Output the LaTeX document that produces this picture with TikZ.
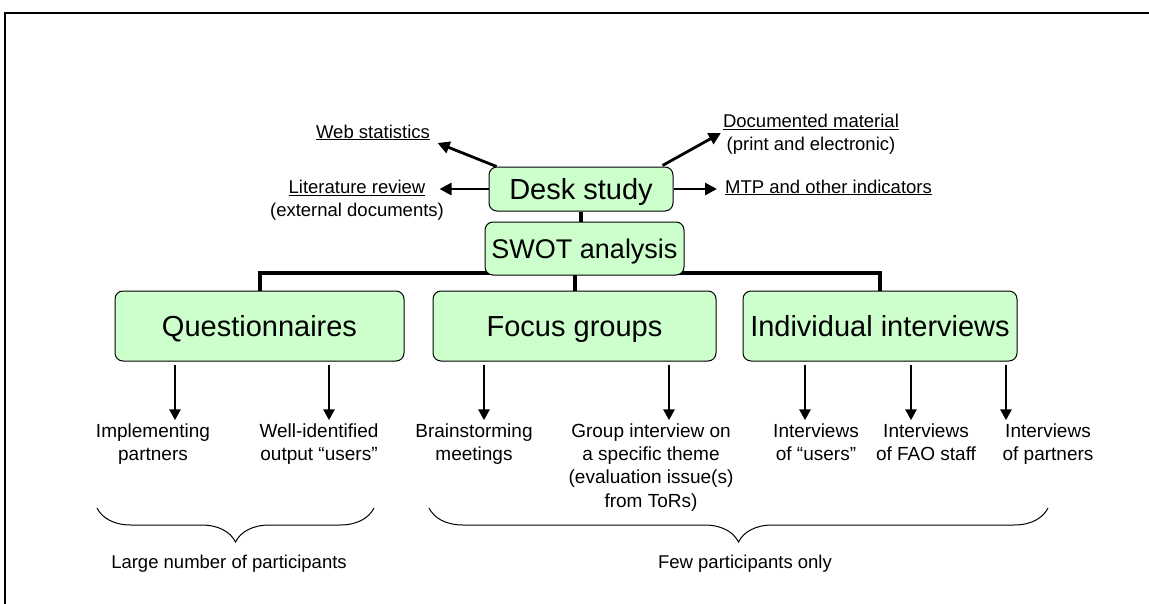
\documentclass[tikz,border=0pt]{standalone}
\usepackage{fontspec}
\setmainfont{Liberation Sans}
\usetikzlibrary{arrows.meta,calc,decorations.pathreplacing,backgrounds}
\definecolor{boxgreen}{HTML}{CCFFCC}
\begin{document}
\begin{tikzpicture}[x=1pt,y=-1pt,
  box/.style={draw=black, line width=1pt, fill=boxgreen, rounded corners=8pt, inner sep=0pt, align=center, text depth=0pt},
  big/.style={box, font=\fontsize{29}{34}\selectfont, text height=20.8pt},
  lbl/.style={inner sep=0pt, align=center, anchor=north, font=\fontsize{19}{23.3}\selectfont},
  toplbl/.style={inner sep=0pt, align=center, font=\fontsize{18.5}{23}\selectfont},
  bar/.style={line width=4pt},
  arr/.style={line width=2.7pt, -{Triangle[length=11pt,width=11pt]}},
  tarr/.style={line width=2.8pt, -{Triangle[length=12pt,width=12pt]}},
  brc/.style={decorate, decoration={brace, amplitude=34pt}, line width=1pt},
]
\useasboundingbox (0,0) rectangle (1149,603);
\clip (0,0) rectangle (1149,603);
\draw[line width=2pt] (4.5,12.5) rectangle (1200,650);

% main boxes
\node[big, minimum width=184pt, minimum height=44pt] (ds) at (581,189) {Desk study};
\node[box, minimum width=199pt, minimum height=53pt, font=\fontsize{27}{32}\selectfont, text height=19.4pt] (sw) at (584.5,248.5) {SWOT analysis};
\node[big, minimum width=289pt, minimum height=70pt] (q) at (259.5,326) {Questionnaires};
\node[big, minimum width=283pt, minimum height=70pt] (fg) at (574.5,326) {Focus groups};
\node[big, minimum width=274pt, minimum height=70pt] (ii) at (880,326) {Individual interviews};

% desk study sources
\node[toplbl, anchor=base] (ws) at (373,138) {\underline{Web statistics}};
\node[toplbl, anchor=north] (lr) at (357,179.7) {\underline{Literature review}\\(external documents)};
\node[toplbl, anchor=north] (dm) at (811,113.7) {\underline{Documented material}\\(print and electronic)};
\node[toplbl, anchor=base west] (mtp) at (725,193) {\underline{MTP and other indicators}};

% bottom labels
\node[lbl] (l1) at (153,423.3) {Implementing\\partners};
\node[lbl] (l2) at (319,423.3) {Well-identified\\output “users”};
\node[lbl] (l3) at (474,423.3) {Brainstorming\\meetings};
\node[lbl] (l4) at (651,423.3) {Group interview on\\a specific theme\\(evaluation issue(s)\\from ToRs)};
\node[lbl] (l5) at (816,423.3) {Interviews\\of “users”};
\node[lbl] (l6) at (926,423.3) {Interviews\\of FAO staff};
\node[lbl] (l7) at (1048,423.3) {Interviews\\of partners};

\node[toplbl, anchor=base] (gl) at (229,568) {Large number of participants};
\node[toplbl, anchor=base] (gr) at (745,568) {Few participants only};

% tree connectors
\begin{scope}[on background layer]
\draw[bar] (ds.south) -- (ds.south |- sw.north);
\draw[bar] (q.north) -- ++(0,-18) -| (ii.north);
\draw[bar] (fg.north) -- ++(0,-18);
\end{scope}

% desk study arrows
\draw[tarr] ($(ds.north west)+(8,0)$) -- ($(ws.base east)+(7.5,5)$);
\draw[tarr] (ds.west) -- ($(ds.west)+(-49,0)$);
\draw[tarr] ($(ds.north east)+(-11,-1)$) -- ($(dm.north west)+(-2,19.3)$);
\draw[tarr, shorten >=8pt] (ds.east) -- (ds.east -| mtp.west);

% method arrows
\coordinate (c1) at (175,0);
\coordinate (c2) at (329,0);
\coordinate (c3) at (484,0);
\coordinate (c4) at (669,0);
\coordinate (c5) at (805,0);
\coordinate (c6) at (911,0);
\coordinate (c7) at (1006,0);
\draw[arr] ($(q.south -| c1)+(0,3)$) -- ($(l1.north -| c1)+(0,-3)$);
\draw[arr] ($(q.south -| c2)+(0,3)$) -- ($(l2.north -| c2)+(0,-3)$);
\draw[arr] ($(fg.south -| c3)+(0,3)$) -- ($(l3.north -| c3)+(0,-3)$);
\draw[arr] ($(fg.south -| c4)+(0,3)$) -- ($(l4.north -| c4)+(0,-3)$);
\draw[arr] ($(ii.south -| c5)+(0,3)$) -- ($(l5.north -| c5)+(0,-3)$);
\draw[arr] ($(ii.south -| c6)+(0,3)$) -- ($(l6.north -| c6)+(0,-3)$);
\draw[arr] ($(ii.south -| c7)+(0,3)$) -- ($(l7.north -| c7)+(0,-3)$);

% braces
\draw[brc] (374,508) -- (97,508);
\draw[brc] (1048,508) -- (429,508);
\end{tikzpicture}
\end{document}
